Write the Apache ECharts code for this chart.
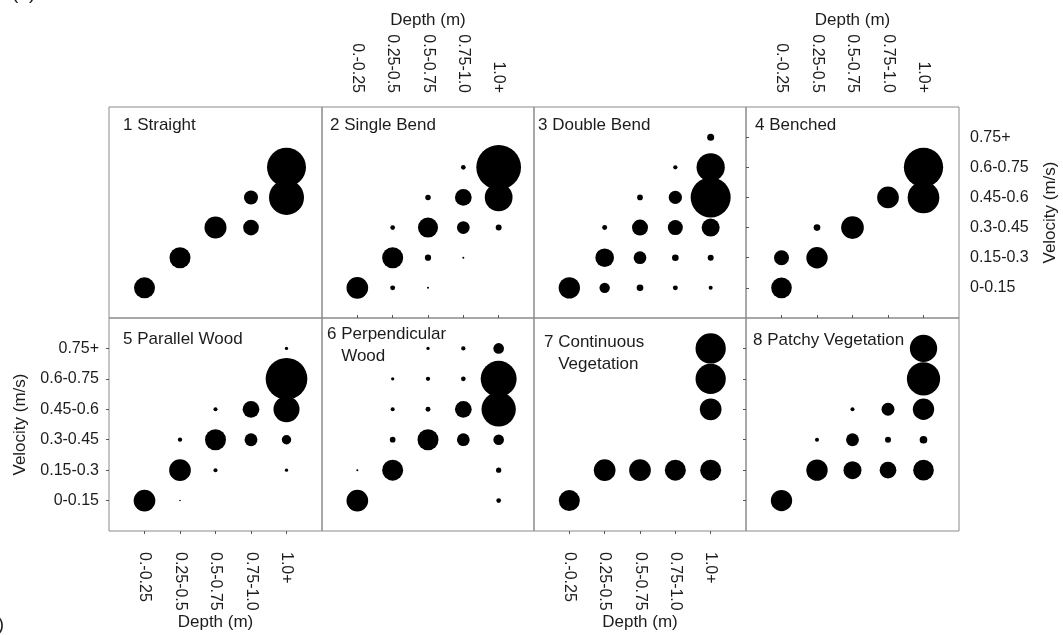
<!DOCTYPE html>
<html>
<head>
<meta charset="utf-8">
<script src="https://cdn.jsdelivr.net/npm/echarts@6/dist/echarts.min.js"></script>
<style>
  html, body { margin: 0; padding: 0; background: #fff; }
  #chart { width: 1063px; height: 635px; }
</style>
</head>
<body>
<div id="chart"></div>
<script>
// ---- Data -------------------------------------------------------------
const depthLabels = ['0.-0.25', '0.25-0.5', '0.5-0.75', '0.75-1.0', '1.0+'];
const velocityLabels = ['0-0.15', '0.15-0.3', '0.3-0.45', '0.45-0.6', '0.6-0.75', '0.75+'];
const panelNames = ['1 Straight', '2 Single Bend', '3 Double Bend', '4 Benched',
  '5 Parallel Wood', '6 Perpendicular\n   Wood', '7 Continuous\n   Vegetation', '8 Patchy Vegetation'];

// [depth class (1-5), velocity class (1-6), relative frequency (%)]
const straight = [[1,1,9.0],[2,2,9.0],[3,3,9.9],[4,3,5.0],[4,4,4.0],[5,4,25.0],[5,5,31.0]];
const singleBend = [[1,1,9.6],[2,1,0.5],[3,1,0.08],[2,2,9.0],[3,2,0.8],[4,2,0.08],[2,3,0.45],[3,3,8.2],[4,3,3.3],[5,3,0.73],[3,4,0.62],[4,4,5.7],[5,4,15.7],[4,5,0.45],[5,5,40.8]];
const doubleBend = [[1,1,9.3],[2,1,2.2],[3,1,0.9],[4,1,0.5],[5,1,0.33],[2,2,7.1],[3,2,3.3],[4,2,0.9],[5,2,0.73],[2,3,0.5],[3,3,5.2],[4,3,4.6],[5,3,6.6],[3,4,0.66],[4,4,3.6],[5,4,32.7],[4,5,0.38],[5,5,16.3],[5,6,1.0]];
const benched = [[1,1,8.7],[1,2,4.6],[2,2,9.3],[2,3,0.9],[3,3,10.5],[4,4,9.6],[5,4,20.5],[5,5,31.5]];
const parallelWood = [[1,1,9.6],[2,1,0.05],[2,2,9.6],[3,2,0.33],[5,2,0.22],[2,3,0.38],[3,3,9.0],[4,3,3.4],[5,3,1.8],[3,4,0.33],[4,4,5.7],[5,4,13.8],[5,5,35.5],[5,6,0.22]];
const perpendicularWood = [[1,1,9.6],[5,1,0.45],[1,2,0.08],[2,2,9.0],[5,2,0.57],[2,3,0.66],[3,3,9.0],[4,3,3.3],[5,3,2.3],[2,4,0.33],[3,4,0.5],[4,4,5.7],[5,4,24.0],[2,5,0.22],[3,5,0.38],[4,5,0.45],[5,5,26.4],[3,6,0.22],[4,6,0.38],[5,6,2.3]];
const continuousVegetation = [[1,1,9.0],[2,2,9.6],[3,2,9.6],[4,2,9.0],[5,2,9.0],[5,4,9.6],[5,5,18.7],[5,6,18.7]];
const patchyVegetation = [[1,1,9.3],[2,2,9.3],[3,2,6.6],[4,2,5.7],[5,2,8.7],[2,3,0.33],[3,3,3.4],[4,3,0.73],[5,3,1.2],[3,4,0.33],[4,4,3.4],[5,4,9.3],[5,5,22.6],[5,6,15.2]];

const panelData = [straight, singleBend, doubleBend, benched,
  parallelWood, perpendicularWood, continuousVegetation, patchyVegetation];

// ---- Layout / style ---------------------------------------------------
const FONT = '"Liberation Sans", Arial, sans-serif';
const TXT = '#1c1c1c';
const BORDER = '#8a8a8a';
const colLeft = [109, 322, 534, 746];
const colWidth = [213, 212, 212, 213];
const rowTop = [107, 318];
const rowHeight = [211, 213];
const titlePos = [[123,124],[330,124],[538,124],[755,124],[123,338],[327,333],[544,341],[753,339]];

const chart = echarts.init(document.getElementById('chart'), null, { renderer: 'canvas' });

const grids = [], xAxes = [], yAxes = [], series = [], graphics = [];
const depthVals = depthLabels.map((_, i) => i + 1);
const velVals = velocityLabels.map((_, i) => i + 1);

panelData.forEach((data, i) => {
  const c = i % 4, r = Math.floor(i / 4);
  grids.push({ left: colLeft[c], top: rowTop[r], width: colWidth[c], height: rowHeight[r],
    show: true, borderColor: BORDER, borderWidth: 1, backgroundColor: 'transparent',
    containLabel: false, outerBoundsMode: 'none' });

  const xTop = (i === 1 || i === 3);
  const xBottom = (i === 4 || i === 6);
  const xShow = xTop || xBottom;
  xAxes.push({
    type: 'value', gridIndex: i, min: 0, max: 6,
    position: xTop ? 'top' : 'bottom',
    splitLine: { show: false },
    axisLine: { show: false },
    axisTick: { show: xShow, customValues: depthVals, length: 3, lineStyle: { color: '#555' } },
    axisLabel: { show: xShow, customValues: depthVals, rotate: -90,
      margin: xTop ? 14 : 21,
      formatter: v => depthLabels[v - 1] || '',
      color: TXT, fontFamily: FONT, fontSize: 16 },
    name: xShow ? 'Depth (m)' : '', nameLocation: 'middle', nameGap: xTop ? 78 : 83,
    nameMoveOverlap: false,
    nameTextStyle: { color: TXT, fontFamily: FONT, fontSize: 17 }
  });

  const yRight = (i === 3);
  const yLeft = (i === 4);
  const yShow = yRight || yLeft;
  yAxes.push({
    type: 'value', gridIndex: i, min: 0, max: 7,
    position: yRight ? 'right' : 'left',
    splitLine: { show: false },
    axisLine: { show: false },
    axisTick: { show: yShow || i === 7, customValues: velVals, length: 3, lineStyle: { color: '#555' } },
    axisLabel: { show: yShow, customValues: velVals, margin: yRight ? 11 : 10,
      formatter: v => velocityLabels[v - 1] || '',
      color: TXT, fontFamily: FONT, fontSize: 16 },
    name: yShow ? 'Velocity (m/s)' : '', nameLocation: 'middle', nameRotate: 90,
    nameGap: yRight ? 83 : 80,
    nameTextStyle: { color: TXT, fontFamily: FONT, fontSize: 17 }
  });

  series.push({
    type: 'scatter', xAxisIndex: i, yAxisIndex: i,
    data: data,
    symbol: 'circle',
    symbolSize: d => 7 * Math.sqrt(d[2]),
    itemStyle: { color: '#000', opacity: 1 },
    emphasis: { disabled: true },
    silent: true, animation: false
  });

  graphics.push({
    type: 'text', left: titlePos[i][0], top: titlePos[i][1] - 10,
    style: { text: panelNames[i], fill: TXT, font: '17px ' + FONT, lineHeight: 22 },
    silent: true
  });
});

// Cropped panel letters at the image edges
graphics.push({ type: 'text', x: 12, y: 3, style: { text: '(a)', fill: TXT, font: '19px ' + FONT, verticalAlign: 'bottom' } });
graphics.push({ type: 'text', x: 4, y: 625, style: { text: '(b)', fill: TXT, font: '19px ' + FONT, align: 'right', verticalAlign: 'middle' } });

chart.setOption({
  animation: false,
  backgroundColor: '#fff',
  textStyle: { fontFamily: FONT, color: TXT },
  grid: grids,
  xAxis: xAxes,
  yAxis: yAxes,
  series: series,
  graphic: graphics
});
</script>
</body>
</html>
